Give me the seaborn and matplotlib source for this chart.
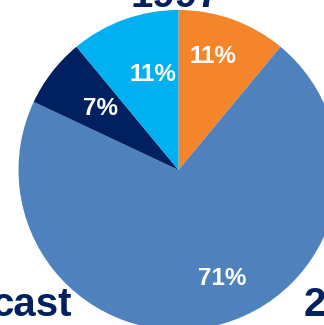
import matplotlib
matplotlib.use("Agg")
import matplotlib.pyplot as plt
import numpy as np
import seaborn as sns

# Share of each segment in 1997 (clockwise from 12 o'clock)
segments = ["Segment A", "Segment B", "Segment C", "Segment D"]
shares = [11, 71, 7, 11]
colors = ["#F5852A", "#4F81BD", "#002060", "#00B0F0"]

title_text = "1997"
left_text = "cast"
right_text = "2"

sns.set_theme(style="white")
plt.rcParams["font.family"] = ["Liberation Sans", "DejaVu Sans"]

W, H, DPI = 324, 325, 100
fig = plt.figure(figsize=(W / DPI, H / DPI), dpi=DPI)
ax = fig.add_axes([0, 0, 1, 1])

# pie centre and radius in pixels
cx, cy, r = 178.5, 170.0, 160.0

wedges, _ = ax.pie(
    shares,
    colors=colors,
    startangle=90,
    counterclock=False,
    radius=1.0,
    center=(0, 0),
    wedgeprops=dict(linewidth=0),
    frame=True,
)
ax.set_xlim(-cx / r, (W - cx) / r)
ax.set_ylim((cy - H) / r, cy / r)
ax.set_aspect("auto")
ax.axis("off")

# label placement: (offset in degrees from wedge mid-angle, radial fraction)
label_layout = [(3.0, 0.74), (9.5, 0.73), (-0.5, 0.625), (-5.0, 0.62)]
for w, val, (dang, dist) in zip(wedges, shares, label_layout):
    mid = np.deg2rad((w.theta1 + w.theta2) / 2 + dang)
    ax.text(dist * np.cos(mid), dist * np.sin(mid), f"{val}%",
            ha="center", va="center", color="white",
            fontsize=17.5, fontweight="bold")

navy = "#002060"
fig.text(175 / W, 1 - 7 / H, title_text, ha="center", va="baseline",
         color=navy, fontsize=29, fontweight="bold")
fig.text(72 / W, 1 - 316 / H, left_text, ha="right", va="baseline",
         color=navy, fontsize=29, fontweight="bold")
fig.text(304 / W, 1 - 316 / H, right_text, ha="left", va="baseline",
         color=navy, fontsize=29, fontweight="bold")

fig.savefig("out.png", dpi=DPI)
